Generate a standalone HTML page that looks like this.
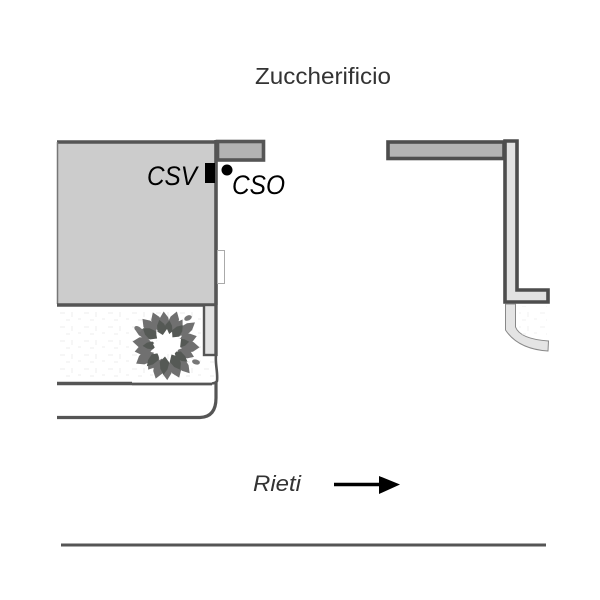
<!DOCTYPE html>
<html>
<head>
<meta charset="utf-8">
<style>
html,body{margin:0;padding:0;background:#fff}
svg{display:block}
text{font-family:"Liberation Sans",Arial,sans-serif}
</style>
</head>
<body>
<svg width="600" height="600" viewBox="0 0 600 600" xmlns="http://www.w3.org/2000/svg">
<defs>
<pattern id="d" width="24" height="14" patternUnits="userSpaceOnUse" x="58" y="310">
<path d="M2 3h5M14 2v5M8 10h4M20 9h3" stroke="#eeeeee" stroke-width="1" fill="none"/>
</pattern>
<path id="l" d="M0-13 L5-19 L4-26 L0-32 L-4-26 L-5-19Z" fill="#707070"/>
<path id="k" d="M0-10 L4-15 L3-21 L0-26 L-3-21 L-4-15Z" fill="#555955"/>
</defs>

<text x="255" y="84" font-size="23" fill="#333" textLength="136" lengthAdjust="spacingAndGlyphs">Zuccherificio</text>

<!-- left building -->
<rect x="58" y="141" width="158" height="164" fill="#cccccc"/>
<path d="M57 142H217M216 140V305" stroke="#555" stroke-width="3.600" fill="none"/>
<path d="M57.500 142V304" stroke="#777" stroke-width="1.500"/>
<rect x="217.500" y="141.500" width="46" height="18.500" fill="#b2b2b2" stroke="#555" stroke-width="3.600"/>
<rect x="205" y="163" width="10" height="20" fill="#000"/>
<circle cx="227" cy="170" r="5.500" fill="#000"/>
<text x="147" y="185" font-size="27" font-style="italic" fill="#000" textLength="50" lengthAdjust="spacingAndGlyphs">CSV</text>
<text x="232" y="194" font-size="27" font-style="italic" fill="#000" textLength="53" lengthAdjust="spacingAndGlyphs">CSO</text>
<rect x="217.500" y="250.500" width="7" height="33" fill="#fff" stroke="#aaa" stroke-width="1"/>

<!-- garden -->
<rect x="58" y="306" width="157" height="76" fill="url(#d)"/>
<path d="M57 305H217" stroke="#555" stroke-width="3.400"/>
<rect x="204" y="305" width="12" height="50" fill="#e2e2e2" stroke="#555" stroke-width="2.400"/>
<path d="M216 305V356" stroke="#555" stroke-width="3.400"/>
<path d="M216 355C215 364 218 372 217 381Q216 383 212 383.500" stroke="#555" stroke-width="2.600" fill="none"/>
<path d="M57 383.500H132" stroke="#555" stroke-width="3.600"/>
<path d="M132 384H212" stroke="#555" stroke-width="2.800"/>
<path d="M57 417.500H200Q216 417 216 398V382" stroke="#555" stroke-width="3.200" fill="none"/>

<!-- tree -->
<g transform="translate(166 345)">
<use href="#l" transform="rotate(-4) scale(1.050)"/><use href="#l" transform="rotate(18) scale(1.100)"/><use href="#l" transform="rotate(33) scale(.95)"/><use href="#l" transform="rotate(52) scale(1.050 1.150)"/><use href="#l" transform="rotate(74) scale(1.100 1)"/><use href="#l" transform="rotate(94) scale(1.200 1.050)"/><use href="#l" transform="rotate(113) scale(1 .95)"/><use href="#l" transform="rotate(140) scale(1.100 1.150)"/><use href="#l" transform="rotate(158) scale(1.200 1.100)"/><use href="#l" transform="rotate(178) scale(1.100)"/><use href="#l" transform="rotate(197) scale(1.150 1.100)"/><use href="#l" transform="rotate(216) scale(1.050 .95)"/><use href="#l" transform="rotate(238) scale(1.250 1.100)"/><use href="#l" transform="rotate(258) scale(1.150 1)"/><use href="#l" transform="rotate(276) scale(1.200 1.050)"/><use href="#l" transform="rotate(297) scale(.9 1.100)"/><use href="#l" transform="rotate(318) scale(1.150 1.100)"/><use href="#l" transform="rotate(338) scale(1.100)"/>
<use href="#k" transform="rotate(8) scale(1.100 .95)"/><use href="#k" transform="rotate(40) scale(1.200 1)"/><use href="#k" transform="rotate(82) scale(1.100 .9)"/><use href="#k" transform="rotate(128) scale(1 1.050)"/><use href="#k" transform="rotate(150) scale(1.300 1.100)"/><use href="#k" transform="rotate(185) scale(1.200 1.150)"/><use href="#k" transform="rotate(222) scale(1.100)"/><use href="#k" transform="rotate(268) scale(1 .9)"/><use href="#k" transform="rotate(306) scale(1.300 1.100)"/><use href="#k" transform="rotate(345) scale(1.200 1)"/>
<ellipse cx="22" cy="-27" rx="4" ry="2.500" fill="#777" transform="rotate(-25 22 -27)"/>
<ellipse cx="-28" cy="-16" rx="4" ry="2.500" fill="#777" transform="rotate(30 -28 -16)"/>
<ellipse cx="30" cy="17" rx="4" ry="2.500" fill="#777" transform="rotate(15 30 17)"/>
<path d="M-13-1 L-6-6 L1-16 L5-7 L15-6 L14 3 L8 9 L0 7 L-7 12 L-10 5Z" fill="#fff"/>
</g>

<!-- right building -->
<rect x="388" y="142" width="116" height="16.500" fill="#b2b2b2" stroke="#4d4d4d" stroke-width="3.600"/>
<path d="M505 141H517V290H548V302H505Z" fill="#e2e2e2" stroke="#4d4d4d" stroke-width="3.600"/>
<path d="M505.500 304V330Q518 349 548 351L548.500 341Q520 339 515.500 327V304Z" fill="#e4e4e4" stroke="#888" stroke-width="1"/>
<rect x="519" y="306" width="28" height="32" fill="url(#d)" opacity=".8"/>

<!-- direction -->
<text x="253" y="491" font-size="22" font-style="italic" fill="#333" textLength="48" lengthAdjust="spacingAndGlyphs">Rieti</text>
<path d="M334 484.500H382" stroke="#000" stroke-width="3.500"/>
<path d="M379 476L400 484.500L379 494Z" fill="#000"/>
<path d="M61 545H546" stroke="#555" stroke-width="3"/>
</svg>
</body>
</html>
